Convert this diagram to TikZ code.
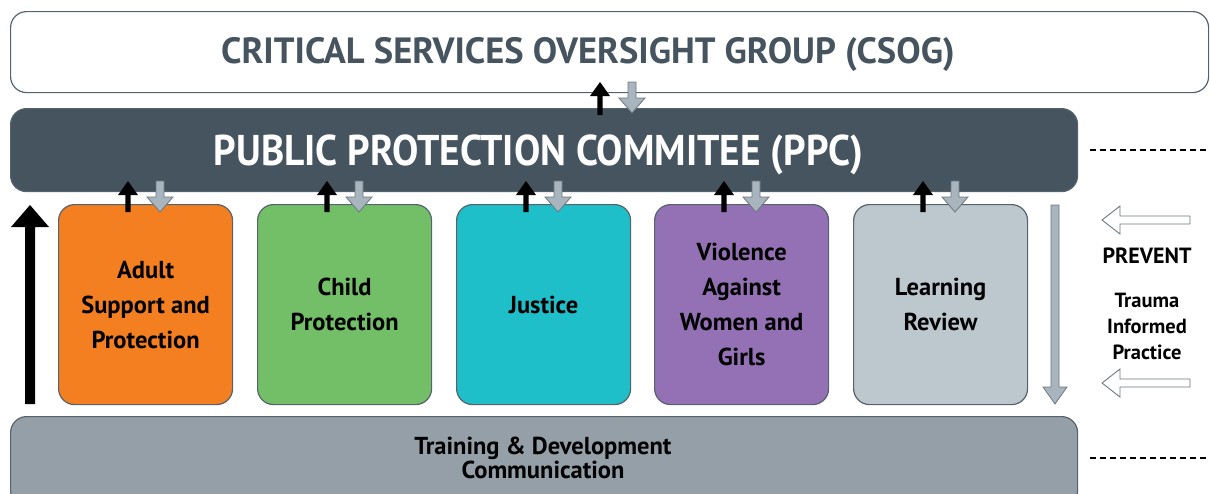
\documentclass[tikz,border=0pt]{standalone}
\usepackage{fontspec}
\setmainfont{PT Sans}
\definecolor{slate}{HTML}{45545F}
\definecolor{edge}{HTML}{56636D}
\definecolor{orangeb}{HTML}{F47F20}
\definecolor{greenb}{HTML}{72BF67}
\definecolor{tealb}{HTML}{1EBFC9}
\definecolor{purpleb}{HTML}{9470B4}
\definecolor{lgreyb}{HTML}{BCC7CE}
\definecolor{botgrey}{HTML}{949FA8}
\definecolor{arrgrey}{HTML}{A9B5BE}
\definecolor{arredge}{HTML}{6B7880}
\tikzset{
  box/.style={draw=edge, line width=1.2pt, rounded corners=16pt},
  unitbox/.style={box, minimum width=174pt, minimum height=200pt, align=center, text=black,
    font=\fontsize{24.5}{35}\selectfont\bfseries, inner sep=0pt},
  titletext/.style={inner sep=0pt, anchor=base},
  blackarr/.style={fill=black, draw=none},
  greyarr/.style={fill=arrgrey, draw=arredge, line width=0.8pt},
  hollowarr/.style={fill=white, draw=arredge, line width=0.9pt},
  dashline/.style={draw=black, line width=1.5pt, dash pattern=on 6pt off 4pt},
}
\newcommand{\blackup}[3]{% x, ybottom, ytop
  \path[blackarr] (#1-2.6,#2) -- (#1-2.6,#3+14) -- (#1-10,#3+14) -- (#1,#3) -- (#1+10,#3+14) -- (#1+2.6,#3+14) -- (#1+2.6,#2) -- cycle;}
\newcommand{\greydown}[3]{% x, ytop, ybottom(tip)
  \path[greyarr] (#1-4,#2) -- (#1-4,#3-15) -- (#1-13,#3-15) -- (#1,#3) -- (#1+13,#3-15) -- (#1+4,#3-15) -- (#1+4,#2) -- cycle;}
\begin{document}
\begin{tikzpicture}[x=1pt,y=-1pt]
\useasboundingbox (0,0) rectangle (1210,493);
% CSOG
\node[box, fill=white, minimum width=1198pt, minimum height=81pt, anchor=north west] (csog) at (10,11) {};
\node[titletext, text=slate, font=\fontsize{36.5}{36}\selectfont\bfseries] (csogtxt) at (588,63.5) {CRITICAL SERVICES OVERSIGHT GROUP (CSOG)};
% PPC
\node[box, fill=slate, minimum width=1067pt, minimum height=83pt, anchor=north west] (ppc) at (10,108) {};
\node[titletext, text=white, font=\fontsize{43}{43}\selectfont\bfseries\addfontfeature{FakeStretch=0.915}] (ppctxt) at (538.5,165.5) {PUBLIC PROTECTION COMMITEE (PPC)};
% bottom
\node[box, fill=botgrey, minimum width=1067pt, minimum height=90pt, anchor=north west] (train) at (10,416) {};
\node[align=center, font=\fontsize{24.5}{24}\selectfont\bfseries] (traintxt) at (543,458) {Training \& Development\\Communication};
% units
\node[unitbox, fill=orangeb, anchor=north west] (asp) at (58,204) {Adult\\Support and\\Protection};
\node[unitbox, fill=greenb, anchor=north west] (cp) at (257,204) {Child\\Protection};
\node[unitbox, fill=tealb, anchor=north west] (jus) at (456,204) {Justice};
\node[unitbox, fill=purpleb, anchor=north west] (vawg) at (654,204) {Violence\\Against\\Women and\\Girls};
\node[unitbox, fill=lgreyb, anchor=north west] (lr) at (853,204) {Learning\\Review};
% small arrows
\foreach \c in {145,344,543,741,940}{
  \blackup{\c-17}{212}{181}
  \greydown{\c+15}{181}{212}
}
\blackup{600}{115}{82}
\greydown{632}{82}{113}
% big left arrow
\path[blackarr] (25,404) -- (25,227) -- (11,227) -- (30,205) -- (49,227) -- (35,227) -- (35,404) -- cycle;
% long grey down arrow
\path[greyarr] (1051,205) -- (1051,387) -- (1043,387) -- (1055,404) -- (1067,387) -- (1059,387) -- (1059,205) -- cycle;
% hollow left arrows
\foreach \yy in {220,383}{
  \path[hollowarr] (1190,\yy-4) -- (1120,\yy-4) -- (1120,\yy-14) -- (1102,\yy) -- (1120,\yy+14) -- (1120,\yy+4) -- (1190,\yy+4) -- cycle;
}
\node[font=\fontsize{22}{22}\selectfont\bfseries] (prev) at (1147,256) {PREVENT};
\node[font=\fontsize{20.5}{26}\selectfont\bfseries, align=center] (tip) at (1147,326) {Trauma\\Informed\\Practice};
% dashed lines
\coordinate (d1) at (1210,150);
\coordinate (d2) at (1210,458);
\draw[dashline] (1090,150) -- (d1);
\draw[dashline] (1090,458) -- (d2);
\end{tikzpicture}
\end{document}
